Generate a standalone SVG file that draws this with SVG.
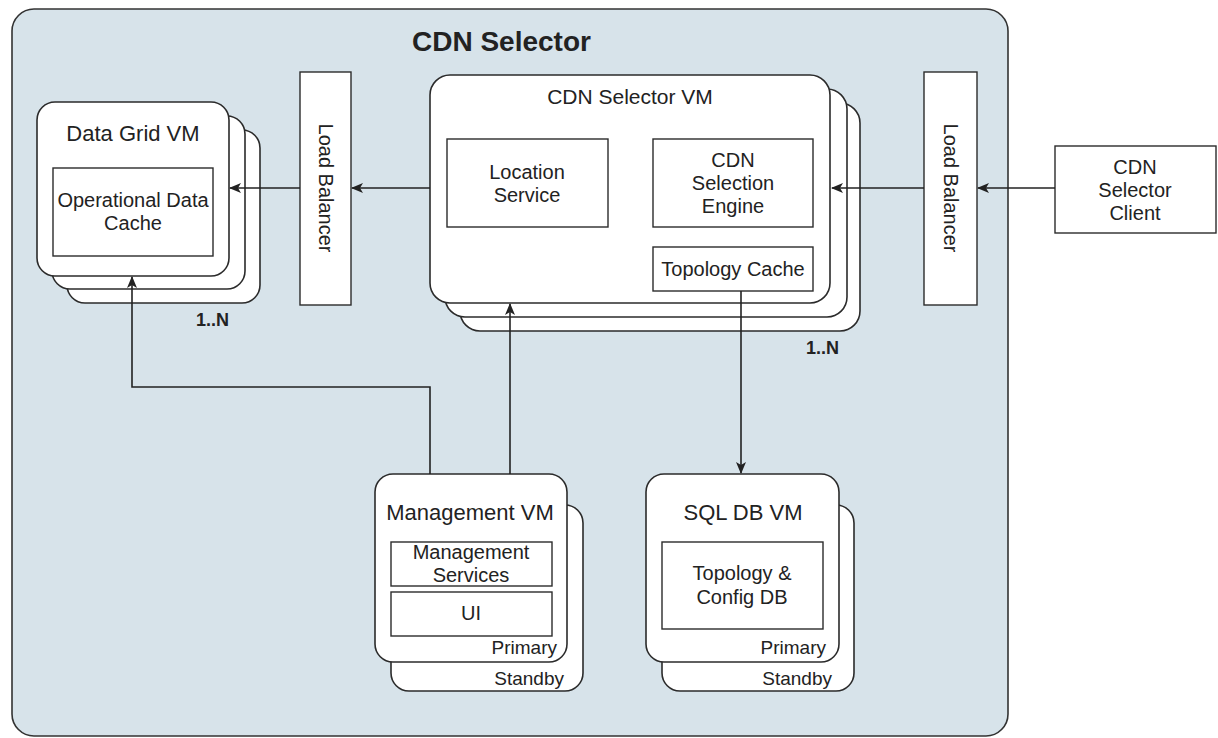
<svg xmlns="http://www.w3.org/2000/svg" width="1218" height="738" viewBox="0 0 1218 738">
  <style>
    .frame { fill: #d7e3ea; stroke: #333; stroke-width: 1.6; }
    .vm { fill: #ffffff; stroke: #2b2b2b; stroke-width: 1.6; }
    .box { fill: #ffffff; stroke: #2b2b2b; stroke-width: 1.4; }
    .t { font-family: "Liberation Sans", Arial, sans-serif; fill: #222; text-anchor: middle; }
    .s20 { font-size: 20px; }
    .s21 { font-size: 21px; }
    .s22 { font-size: 22px; }
    .s19 { font-size: 19px; }
    .end { text-anchor: end; }
    .b { font-weight: bold; }
    .edge { fill: none; stroke: #222; stroke-width: 1.6; }
  </style>
  <defs>
    <marker id="arrow" viewBox="0 0 12 10" refX="11" refY="5" markerWidth="12" markerHeight="10" markerUnits="userSpaceOnUse" orient="auto">
      <path d="M0,0 L12,5 L0,10 L3,5 z" fill="#222"/>
    </marker>
  </defs>

  <!-- outer system boundary -->
  <g id="cdn-selector">
    <rect class="frame" x="12" y="9" width="996" height="727" rx="22"/>
    <text class="t b" x="412" y="51" font-size="28" style="text-anchor:start">CDN Selector</text>
  </g>

  <!-- data grid VM stack -->
  <g id="data-grid-vm">
    <rect class="vm" x="67" y="130" width="193" height="173" rx="18"/>
    <rect class="vm" x="52" y="116" width="193" height="173" rx="18"/>
    <rect class="vm" x="37" y="102" width="192" height="174" rx="18"/>
    <text class="t s22" x="133" y="141">Data Grid VM</text>
    <rect class="box" x="53" y="168" width="160" height="88"/>
    <text class="t s20" x="133" y="207">Operational Data</text>
    <text class="t s20" x="133" y="230">Cache</text>
    <text class="t b" x="196" y="326" font-size="18" style="text-anchor:start">1..N</text>
  </g>

  <!-- load balancer in front of the data grid -->
  <g id="load-balancer-grid">
    <rect class="box" x="300" y="72" width="51" height="233"/>
    <text class="t s20" transform="translate(325.5,188) rotate(90)" dy="7">Load Balancer</text>
  </g>

  <!-- CDN selector VM stack -->
  <g id="cdn-selector-vm">
    <rect class="vm" x="460" y="103" width="400" height="228" rx="20"/>
    <rect class="vm" x="445" y="89" width="402" height="228" rx="20"/>
    <rect class="vm" x="430" y="75" width="400" height="228" rx="20"/>
    <text class="t s21" x="630" y="104">CDN Selector VM</text>
    <text class="t b" x="806" y="354" font-size="18" style="text-anchor:start">1..N</text>
  </g>

  <g id="location-service">
    <rect class="box" x="447" y="139" width="161" height="88"/>
    <text class="t s20" x="527" y="179">Location</text>
    <text class="t s20" x="527" y="202">Service</text>
  </g>

  <g id="selection-engine">
    <rect class="box" x="653" y="139" width="160" height="88"/>
    <text class="t s20" x="733" y="167">CDN</text>
    <text class="t s20" x="733" y="190">Selection</text>
    <text class="t s20" x="733" y="213">Engine</text>
  </g>

  <g id="topology-cache">
    <rect class="box" x="653" y="247" width="160" height="44"/>
    <text class="t s20" x="733" y="276">Topology Cache</text>
  </g>

  <!-- load balancer in front of the selector VMs -->
  <g id="load-balancer-selector">
    <rect class="box" x="924" y="72" width="53" height="233"/>
    <text class="t s20" transform="translate(950.5,188) rotate(90)" dy="7">Load Balancer</text>
  </g>

  <g id="selector-client">
    <rect class="box" x="1055" y="146" width="161" height="87"/>
    <text class="t s20" x="1135" y="174">CDN</text>
    <text class="t s20" x="1135" y="197">Selector</text>
    <text class="t s20" x="1135" y="220">Client</text>
  </g>

  <!-- management VM pair -->
  <g id="management-vm">
    <rect class="vm" x="391" y="505" width="192" height="186" rx="18"/>
    <text class="t s19 end" x="564" y="685">Standby</text>
    <rect class="vm" x="375" y="474" width="192" height="188" rx="18"/>
    <text class="t s22" x="470" y="520">Management VM</text>
    <rect class="box" x="391" y="542" width="161" height="44"/>
    <text class="t s20" x="471" y="559">Management</text>
    <text class="t s20" x="471" y="582">Services</text>
    <rect class="box" x="391" y="592" width="161" height="44"/>
    <text class="t s20" x="471" y="620">UI</text>
    <text class="t s19 end" x="557" y="654">Primary</text>
  </g>

  <!-- SQL DB VM pair -->
  <g id="sql-db-vm">
    <rect class="vm" x="662" y="505" width="192" height="186" rx="18"/>
    <text class="t s19 end" x="832" y="685">Standby</text>
    <rect class="vm" x="646" y="474" width="193" height="188" rx="18"/>
    <text class="t s22" x="743" y="520">SQL DB VM</text>
    <rect class="box" x="662" y="542" width="161" height="87"/>
    <text class="t s20" x="742" y="580">Topology &amp;</text>
    <text class="t s20" x="742" y="604">Config DB</text>
    <text class="t s19 end" x="826" y="654">Primary</text>
  </g>

  <!-- connectors -->
  <g id="connectors">
    <path class="edge" d="M1055,188 H978" marker-end="url(#arrow)"/>
    <path class="edge" d="M924,188 H832" marker-end="url(#arrow)"/>
    <path class="edge" d="M430,188 H352" marker-end="url(#arrow)"/>
    <path class="edge" d="M300,188 H230" marker-end="url(#arrow)"/>
    <path class="edge" d="M430,474 V387 H132 V277" marker-end="url(#arrow)"/>
    <path class="edge" d="M510,474 V304" marker-end="url(#arrow)"/>
    <path class="edge" d="M741,291 V473" marker-end="url(#arrow)"/>
  </g>
</svg>
